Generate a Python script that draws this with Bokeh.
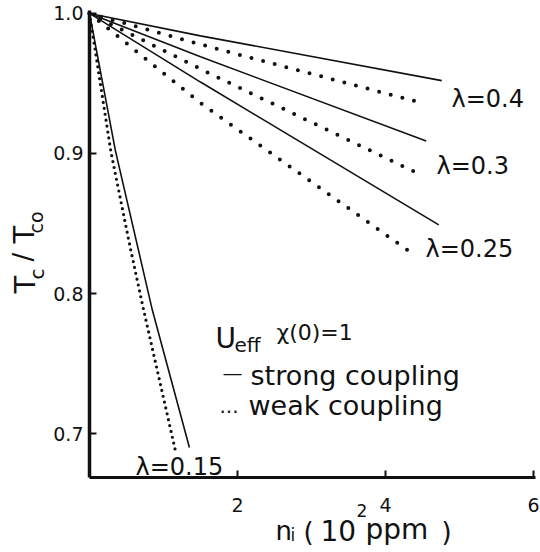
import math
from bokeh.plotting import figure
from bokeh.models import Label, FixedTicker, Range1d
from bokeh.embed import file_html
from bokeh.resources import INLINE

# ---- data ----
x_ticks = [2, 4, 6]
x_tick_labels = ["2", "4", "6"]
y_ticks = [0.7, 0.8, 0.9, 1.0]
y_tick_labels = ["0.7", "0.8", "0.9", "1.0"]
x_axis_extent = (0.0, 6.03)
y_axis_extent = (0.6686, 1.0021)

# lambda = 0.4
n_04_strong = [0.0, 1.5, 4.76]
t_04_strong = [1.0, 0.984, 0.952]
n_04_weak = [0.0, 1.70, 4.50]
t_04_weak = [1.0, 0.975, 0.936]
# lambda = 0.3
n_03_strong = [0.0, 1.5, 4.55]
t_03_strong = [1.0, 0.969, 0.909]
n_03_weak = [0.0, 1.59, 4.43]
t_03_weak = [1.0, 0.958, 0.886]
# lambda = 0.25
n_025_strong = [0.0, 1.5, 4.72]
t_025_strong = [1.0, 0.951, 0.849]
n_025_weak = [0.0, 1.5, 4.35]
t_025_weak = [1.0, 0.936, 0.829]
# lambda = 0.15
n_015_strong = [0.0, 0.35, 0.85, 1.35]
t_015_strong = [1.0, 0.902, 0.788, 0.690]
n_015_weak = [0.0, 0.29, 0.55, 0.72, 1.16]
t_015_weak = [1.0, 0.901, 0.833, 0.791, 0.688]

FONT = "DejaVu Sans"
INK = "#111111"
W, H = 540, 552

# the frame covers the whole canvas; page pixel -> data mapping
X0, SX = 89.0, 74.0          # n = 0 at px 89, 74 px per unit
Y10, SY = 10.0, 1400.4       # T = 1.0021 at py 10, 1400 px per unit


def n_of(px):
    return (px - X0) / SX


def t_of(py):
    return y_axis_extent[1] - (py - Y10) / SY


p = figure(width=W, height=H,
           x_range=Range1d(n_of(0), n_of(W)), y_range=Range1d(t_of(H), t_of(0)),
           output_backend="svg", toolbar_location=None,
           min_border_left=0, min_border_right=0, min_border_top=0, min_border_bottom=0)
p.xgrid.visible = False
p.ygrid.visible = False
p.outline_line_color = None
p.background_fill_color = "white"
p.border_fill_color = "white"

for ax, ticks, labels in ((p.xaxis[0], x_ticks, x_tick_labels), (p.yaxis[0], y_ticks, y_tick_labels)):
    ax.ticker = FixedTicker(ticks=ticks)
    ax.major_label_overrides = {t: l for t, l in zip(ticks, labels)}
    ax.axis_line_color = INK
    ax.major_tick_line_color = INK
    ax.major_tick_line_width = 2
    ax.major_tick_in = 7
    ax.major_tick_out = 0
    ax.minor_tick_line_color = None
    ax.major_label_text_font = FONT
    ax.major_label_text_color = INK
p.xaxis.fixed_location = y_axis_extent[0]
p.xaxis.bounds = x_axis_extent
p.yaxis.fixed_location = x_axis_extent[0]
p.yaxis.bounds = y_axis_extent
p.xaxis.axis_line_width = 3
p.yaxis.axis_line_width = 3.5
p.xaxis.major_label_text_font_size = "19px"
p.xaxis.major_label_standoff = 20
p.yaxis.major_label_text_font_size = "19px"
p.yaxis.major_label_standoff = 6

solid = dict(line_color=INK, line_width=1.6)
dots = dict(line_color=INK, line_width=4, line_dash="0 12", line_cap="round")
dots_fine = dict(line_color=INK, line_width=3.2, line_dash="0 6", line_cap="round")

p.line(n_04_strong, t_04_strong, **solid)
p.line(n_04_weak, t_04_weak, **dots)
p.line(n_03_strong, t_03_strong, **solid)
p.line(n_03_weak, t_03_weak, **dots)
p.line(n_025_strong, t_025_strong, **solid)
p.line(n_025_weak, t_025_weak, **dots)
p.line(n_015_strong, t_015_strong, **solid)
p.line(n_015_weak, t_015_weak, **dots_fine)


def txt(s, px, py, size, rotated=False):
    # (px, py): wanted start of the text baseline in page pixels;
    # small correction for where Bokeh actually draws the baseline
    if rotated:
        px, py, angle = px - 9, py - 4, math.pi / 2
    else:
        px, py, angle = px - 2, py - 7, 0.0
    p.add_layout(Label(x=n_of(px), y=t_of(py),
                       text=s, text_font=FONT, text_font_size=f"{size}px",
                       text_color=INK, text_align="left", text_baseline="alphabetic",
                       angle=angle))


# lambda labels
txt("λ=0.4", 453, 105, 24)
txt("λ=0.3", 438, 172, 24)
txt("λ=0.25", 427, 255, 24)
txt("λ=0.15", 137, 473, 24)

# legend text
txt("U", 217, 345, 28)
txt("eff", 236, 351, 20)
txt("χ(0)=1", 278, 339, 22)
txt("—", 224, 379, 20)
txt("strong coupling", 252, 382, 27)
txt("...", 221, 412, 20)
txt("weak coupling", 250, 412, 27)

# y axis label  T_c / T_co  (rotated)
txt("T", 33, 297, 29, True)
txt("c", 45, 283, 20, True)
txt("/", 31, 265, 26, True)
txt("T", 32, 247, 29, True)
txt("co", 44, 237, 19, True)

# x axis label  n_i (10^2 ppm)
txt("n", 277, 537, 26)
txt("i", 292, 541, 17)
txt("(", 305, 538, 26)
txt("10", 322, 537, 28)
txt("2", 358, 517, 17)
txt("ppm", 367, 536, 28)
txt(")", 443, 538, 26)

open("out.html", "w").write(file_html(p, INLINE))
